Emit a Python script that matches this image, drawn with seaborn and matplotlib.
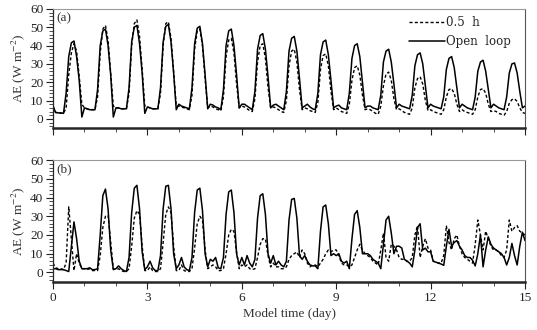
import numpy as np
import pandas as pd
import matplotlib.pyplot as plt
import seaborn as sns
from matplotlib.ticker import MultipleLocator
from matplotlib.lines import Line2D

sns.set_style("ticks")
plt.rcParams['font.family'] = ['Liberation Serif', 'DejaVu Serif']
plt.rcParams['mathtext.fontset'] = 'stix'

## model time, every 2 hours over 15 days
time_day = np.arange(0, 15 + 1e-9, 1 / 12)

## panel (a), one row per day (00h..22h) + end point
a_open = [
    7, 3.5, 3.3, 3.2, 3, 14, 34, 41.5, 42.5, 34, 21, 1,
    6, 5.5, 5, 5, 5, 16, 40, 48, 49, 40, 24, 1,
    6, 6, 5.5, 5.5, 5.5, 17, 42, 50, 51, 41, 25, 3,
    6.5, 6, 5.5, 5.5, 5.5, 17, 42, 50.5, 51.5, 42, 25, 5,
    8, 7, 6.5, 6, 5.5, 17, 41, 49.5, 50.5, 41, 24, 5.5,
    8, 7.5, 6.5, 6, 5, 16, 40, 48, 49, 40, 24, 6,
    8, 8, 7, 6, 5, 15, 38, 45.5, 46.5, 38, 23, 6,
    7.5, 8, 7, 6, 5, 15, 37, 44, 45, 37, 22, 6,
    7, 8, 6.5, 5.5, 5, 14, 35, 42, 43, 35, 21, 6,
    7, 7.5, 6, 5.5, 5, 14, 33, 40, 41, 34, 20, 6,
    7, 7, 6, 5.5, 5, 13, 31, 37, 38, 31, 19, 6,
    8, 7, 6.5, 6, 5.5, 13, 29, 35, 36, 30, 18, 6,
    8, 7, 6.5, 6, 5.5, 12, 27, 33, 34, 28, 17, 6,
    8, 7, 6, 5.5, 5, 12, 26, 31, 32, 26, 16, 6,
    8, 7, 6, 5.5, 5, 12, 25, 30, 30.5, 25, 15, 6,
    7]
a_half = [
    7, 3.5, 3.3, 3.2, 3, 6, 24, 36, 41, 37, 23, 8,
    6, 5.5, 5, 5, 5, 12, 36, 49, 51, 43, 25, 7,
    6, 6, 5.5, 5.5, 5.5, 14, 40, 52, 54, 45, 27, 7,
    6.5, 6, 5.5, 5.5, 5.5, 14, 40, 52, 53, 44, 26, 7,
    7, 6.5, 6, 5.5, 5, 13, 38, 48, 49, 40, 22, 6,
    7, 6.5, 5.5, 5, 4.5, 12, 34, 43, 44, 36, 19, 6,
    7, 6.5, 5.5, 4.5, 4, 11, 31, 40, 41, 33, 17, 6,
    6.5, 6, 5, 4, 3.5, 10, 29, 37, 38, 31, 16, 5,
    6, 5.5, 4.5, 4, 3.5, 9, 27, 34.5, 35.5, 29, 15, 5,
    6, 5, 4, 3.5, 3, 8, 21, 28, 29, 24, 13, 5,
    5.5, 5, 4, 3, 2.5, 7, 18, 24.5, 25.5, 21, 11, 5,
    5.5, 4.5, 3.5, 3, 2.5, 6, 17, 22, 23, 19, 10, 4.5,
    5, 4, 3.5, 3, 2.5, 5, 12, 16, 16.5, 14, 8, 4,
    5, 4, 3.5, 3, 2.5, 5, 12, 16, 16.5, 14, 8, 4,
    4.5, 4, 3, 2.5, 2, 4, 8.5, 10.5, 11, 9.5, 6, 3.5,
    3]

## panel (b)
b_open = [
    2, 2, 1.5, 1.5, 1.5, 1, 0.5, 14, 27, 18, 6, 2,
    2, 2, 2.5, 1.5, 1.5, 2, 20, 41, 44.5, 34, 12, 1.5,
    2, 3.5, 2, 1, 0.5, 8, 32, 45, 46.5, 34, 11, 1.5,
    3, 6, 2.5, 1, 1, 9, 34, 46, 46.5, 34, 10, 2,
    4, 8, 3, 1.5, 1, 8, 32, 44, 45, 33, 10, 3,
    7, 6, 8, 2.5, 2, 8, 31, 43, 44, 32, 10, 4,
    8, 4, 9, 5, 3, 7, 29, 41, 42, 31, 10, 5,
    9, 4, 6, 4, 3, 6, 28, 39, 39.5, 29, 9, 7,
    9, 6, 4, 3.5, 3.5, 2, 22, 35, 36, 26, 9, 10,
    9, 10, 6, 5, 6, 2, 18, 31, 33, 24, 10, 10,
    10, 9, 7, 6, 5, 2, 15, 28, 30, 21, 10, 14,
    14, 13, 7, 6, 5, 3, 12, 24, 26, 12, 13, 11,
    11, 6, 5.5, 5, 4.5, 3.8, 14, 23, 14, 16, 17, 14,
    12, 9, 8, 8, 6.5, 3.5, 10, 20, 3, 12, 19, 15,
    13, 12, 11, 10, 8, 4, 8, 15.5, 9, 4, 14, 21.5,
    17]
b_half = [
    5, 2.5, 2, 2, 1.5, 5, 35, 18, 1, 10, 5, 2,
    2, 1.5, 2, 1, 1, 1, 9, 24, 30, 30.5, 16, 2,
    1.5, 2, 1, 0.5, 0.5, 2, 14, 29, 33, 31, 14, 1,
    1, 3, 1, 0.5, 0.5, 2, 16, 31, 35, 32, 14, 1,
    1, 4, 1, 0.5, 0.5, 2, 13, 26, 30, 28, 12, 2,
    3, 4, 3, 1, 1, 2, 10, 20, 23, 22, 11, 2,
    4, 3, 4, 2, 1.5, 2, 8, 15, 18, 18, 9, 3,
    5, 3, 3, 2, 2, 3, 7, 9, 10, 11, 8, 12,
    10, 5, 3, 4, 4, 3, 5, 7, 10, 12, 11, 12,
    12, 9, 5, 4, 4, 3, 4, 8, 12, 15, 12, 10,
    9, 8, 6, 5, 4, 12, 21, 8, 6, 15, 14, 12,
    8, 7, 7, 6, 6, 8, 20, 25, 8, 14, 18, 13,
    12, 6, 5.5, 5, 5, 9, 25, 16, 12, 18, 20, 14,
    10, 8, 7, 6, 5, 15, 28, 20, 12, 22, 18, 14,
    12, 12, 11, 9, 8, 12, 28, 22, 24, 25, 22, 21,
    20]

panels = [("(a)", a_half, a_open), ("(b)", b_half, b_open)]

fig = plt.figure(figsize=(5.37, 3.30), dpi=100)
ax_a = fig.add_axes([0.0987, 0.612, 0.879, 0.361])
ax_b = fig.add_axes([0.0987, 0.146, 0.879, 0.369])

dash = (0, (2.2, 1.6))
for ax, (tag, half, opn) in zip([ax_a, ax_b], panels):
    df = pd.DataFrame({'t': time_day, 'half': half, 'open': opn})
    sns.lineplot(data=df, x='t', y='half', ax=ax, color='k', lw=1.0, linestyle=dash)
    sns.lineplot(data=df, x='t', y='open', ax=ax, color='k', lw=1.1)
    ax.set_xlim(0, 15)
    ax.set_ylim(-5, 60)
    ax.xaxis.set_major_locator(MultipleLocator(3))
    ax.xaxis.set_minor_locator(MultipleLocator(1))
    ax.yaxis.set_major_locator(MultipleLocator(10))
    ax.yaxis.set_minor_locator(MultipleLocator(2))
    ax.tick_params(axis='both', which='major', direction='out', length=5, width=0.8,
                   labelsize=9.5, colors='#222222', pad=2)
    ax.tick_params(axis='both', which='minor', direction='out', length=3, width=0.6,
                   color='#333333')
    ax.set_ylabel('AE (W m$^{-2}$)', fontsize=9.5, color='#333333', labelpad=2)
    ax.set_xlabel('')
    ax.spines['top'].set_color('#999999')
    ax.spines['right'].set_color('#555555')
    ax.spines['right'].set_linewidth(0.8)
    ax.spines['bottom'].set_linewidth(1.8)
    ax.spines['left'].set_linewidth(0.9)
    ax.text(0.008, 0.97, tag, transform=ax.transAxes, ha='left', va='top',
            fontsize=9.5, color='#333333')

ax_a.set_xticklabels([])
ax_b.set_xlabel('Model time (day)', fontsize=9.5, color='#333333', labelpad=3)

handles = [Line2D([], [], color='k', lw=1.0, linestyle=dash),
           Line2D([], [], color='k', lw=1.1)]
ax_a.legend(handles, ['0.5  h', 'Open  loop'], loc='upper right', frameon=False,
            prop={'family': 'DejaVu Serif', 'size': 8.5}, handlelength=3.0,
            handletextpad=0.1, labelspacing=0.5,
            borderaxespad=0.2, bbox_to_anchor=(0.985, 1.0))

fig.savefig('out.png', dpi=100)
